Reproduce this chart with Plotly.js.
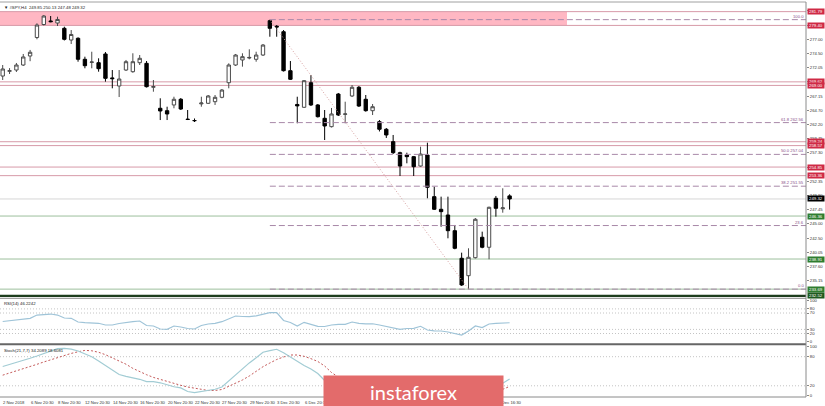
<!DOCTYPE html>
<html><head><meta charset="utf-8">
<script src="https://cdn.plot.ly/plotly-3.0.1.min.js"></script>
<style>html,body{margin:0;padding:0;background:#fff;}#chart{width:825px;height:406px;}</style>
</head><body><div id="chart"></div>
<script>
// ---------------- DATA ----------------
const chartTitle = '\u25BC #SPY,H4  249.85 250.13 247.48 249.32';
const rsiTitle = 'RSI(14) 46.2242';
const stochTitle = 'Stoch(21,7,7) 34.2089 18.6081';

const opens = [270.63,271.45,271.67,272.54,274.10,277.31,279.56,280.17,279.82,278.90,
276.87,277.17,273.53,273.00,272.94,274.45,270.30,268.90,271.67,271.38,
272.94,272.83,268.68,265.04,264.62,265.61,266.60,263.15,262.92,265.80,
265.90,266.18,266.94,269.47,272.54,273.41,273.75,273.53,274.27,280.22,
279.25,278.31,271.55,265.70,265.21,269.47,265.61,263.30,261.85,267.51,
264.00,267.17,268.68,266.60,264.62,262.71,261.40,259.25,257.34,256.94,
256.65,255.03,256.94,249.72,247.53,246.54,243.82,239.04,236.02,239.14,
242.68,240.95,249.44,247.62,249.85];
const highs = [272.54,272.00,272.89,274.45,275.15,279.77,281.20,281.03,280.91,279.18,
278.60,277.34,273.98,274.84,273.70,274.79,271.67,271.67,273.41,274.57,
274.27,273.23,269.94,266.77,265.31,267.04,266.82,264.74,263.27,267.04,
267.34,267.34,268.38,272.83,274.45,274.57,275.26,274.84,276.18,280.40,
279.47,278.60,273.23,267.04,269.94,270.81,265.78,264.74,265.09,267.69,
266.18,269.07,268.90,267.34,265.78,263.00,261.62,260.41,257.51,257.34,
256.77,258.38,259.07,251.45,249.72,249.72,244.81,240.01,240.77,246.02,
243.65,247.98,249.84,251.17,250.13];
const lows = [269.94,270.98,271.33,272.37,273.20,277.00,279.39,279.94,279.30,276.79,
276.18,273.11,271.97,271.97,271.38,269.65,268.50,266.99,271.50,271.20,
272.54,268.64,267.91,263.00,263.00,265.04,264.74,263.00,262.66,265.31,
265.78,265.61,266.77,268.50,272.37,272.25,273.53,273.11,274.10,277.44,
277.44,271.41,269.94,262.44,265.09,265.43,263.44,259.54,261.71,263.70,
262.44,266.99,265.26,264.45,263.87,261.02,259.89,257.11,253.30,255.50,
253.30,254.91,249.44,247.41,244.51,242.50,240.60,234.24,233.69,239.00,
240.77,238.87,246.25,246.94,247.48];
const closes = [271.85,271.55,272.54,273.93,274.75,279.47,281.03,280.05,280.43,276.99,
277.83,273.53,272.42,273.06,271.90,270.23,270.17,270.11,273.11,273.11,
273.70,268.78,268.80,264.57,264.05,266.60,264.91,263.10,262.89,265.95,
267.17,266.94,268.20,272.54,274.27,273.98,273.85,274.27,276.00,278.90,
279.13,271.55,270.06,265.45,269.82,265.61,263.58,261.97,264.05,263.87,
264.05,268.68,265.43,264.62,265.31,261.40,260.41,257.34,255.03,256.65,
254.91,257.11,251.34,247.53,247.12,243.82,240.77,234.41,239.21,245.80,
240.95,247.88,247.70,247.78,249.32];

const rsi = [49.3,51,53,54.6,57,65,66.3,67.5,65,57.8,
57,48,46.3,46.3,44.9,40.7,40.7,44.4,47.3,48.8,
50.5,39.5,38.3,31,30.2,38.3,35.9,32.2,31,39.5,
43.2,44.9,48.8,56.6,62.7,61.5,61,63.2,66.3,70.7,
70.7,51.7,46.8,38.3,47.3,43.2,37.6,37.1,40.7,42.4,
42.4,48,44.9,43.7,43.7,40.7,36.6,33.4,30.2,32.2,
32.7,37.6,28.5,26.6,26.1,23.7,20,16.3,26.1,38.3,
34.6,43.2,44.9,44.9,46.22];
const stochMain = [59.8,63.7,67.6,72,76.7,81.4,86.4,91.8,96.7,97.1,
95.7,91.8,86.2,79.8,71.3,62.3,53,43.3,39.4,36.5,
33.4,28.7,28.5,26.2,21.6,18.1,15.7,8.2,6,8.2,
10.1,12.8,17.5,30.1,43.3,56.5,67.2,77.7,89.1,92.6,
95.3,88,78.8,69.3,61.9,54.6,45.4,30.9,21.6,24,
25,27,27,25,24,20,16,12,8,6,
5,5,4,3,2.5,2,2,1.5,3,9,
12,17,20,25.2,34.21];
const stochSignal = [41.9,46.2,50.3,54.8,59.6,64.3,69.1,73.6,78.4,82.7,
86.8,90.1,93,92.2,89.1,84.1,78.1,72,64.5,55.9,
48.9,42.9,37.3,33,28.9,24.7,21,17.5,14.4,12.8,
10.3,10.3,12.4,18.6,24.7,32,40.2,50.5,59.4,67,
74.2,79.4,83.5,83.5,80.8,75.9,70.1,60.8,47.4,38,
32,28,26,25,25,24,22,19,16,13,
10,8,6.5,5,4.5,4,3.5,3,3,4,
6,8,10,12.8,18.61];

// visible time-axis labels (bar number -> text); the others sit under the watermark
const timeLabelBars = [0,4,8,12,16,20,24,28,32,36,40,44,72];
const timeLabelTexts = ['2 Nov 2018','6 Nov 20:30','8 Nov 20:30','12 Nov 20:30','14 Nov 20:30',
 '16 Nov 20:30','20 Nov 20:30','22 Nov 20:30','27 Nov 20:30','29 Nov 20:30','3 Dec 20:30',
 '6 Dec 20:30','28 Dec 16:30'];

// price scale ticks
const priceTicks = [235.15,237.60,240.05,242.50,245.00,247.45,249.90,252.35,254.85,257.30,
 259.75,262.20,264.70,267.15,269.60,272.05,274.50,277.00,279.45,281.95];

// horizontal levels
const resistanceLevels = [281.79,279.40,269.62,269.00,259.24,258.57,254.85,253.36];
const supportLevels = [246.36,238.91,233.69];
const baseLevel = 232.52;
const currentPrice = 249.32;
const zoneTop = 281.79, zoneBottom = 279.40;

// fibonacci
const fibStartBar = 39, fibEndBar = 68;
const fibHigh = 280.40, fibLow = 233.69;
const fibRatios = [0, 23.6, 38.2, 50.0, 61.8, 100.0];
const fibLabels = ['0.0','23.6','38.2 251.55','50.0 257.04','61.8 262.56','100.0'];

const rsiLevels = [20,30,70,80];
const rsiTicks = [0,20,30,70,80,100];
const stochLevels = [20,80];
const stochTicks = [0,20,80,100];

const watermarkText = 'instaforex';

// ---------------- GEOMETRY / STYLE ----------------
const W = 825, H = 406, ML = 0, MR = 19, MT = 2, MB = 9;
const PW = W - ML - MR, PH = H - MT - MB;
const pxPerBar = 6.85, firstBarPx = 2.7;
const xr0 = -firstBarPx / pxPerBar, xr1 = xr0 + PW / pxPerBar;
const yPaper = py => (H - MB - py) / PH;   // page pixel -> paper y
const xPaper = px => (px - ML) / PW;
const FONT = 'Liberation Sans, Arial, sans-serif';
const bars = closes.map((_, i) => i);

const traces = [
  {type:'candlestick', x:bars, open:opens, high:highs, low:lows, close:closes,
   xaxis:'x', yaxis:'y', whiskerwidth:0, line:{width:1},
   increasing:{fillcolor:'#ffffff', line:{color:'#4a4a4a', width:1}},
   decreasing:{fillcolor:'#000000', line:{color:'#000000', width:1}},
   hoverinfo:'skip', showlegend:false},
  {type:'scatter', mode:'lines', x:bars, y:rsi, xaxis:'x', yaxis:'y2',
   line:{color:'#9fc4d8', width:1.2}, hoverinfo:'skip', showlegend:false},
  {type:'scatter', mode:'lines', x:bars, y:stochSignal, xaxis:'x', yaxis:'y3',
   line:{color:'#c45a5a', width:1, dash:'2px,2px'}, hoverinfo:'skip', showlegend:false},
  {type:'scatter', mode:'lines', x:bars, y:stochMain, xaxis:'x', yaxis:'y3',
   line:{color:'#a2ccd4', width:1.2}, hoverinfo:'skip', showlegend:false}
];

const shapes = [];
const annotations = [];

// resistance zone fill
shapes.push({type:'rect', xref:'paper', yref:'y', x0:0, x1:xPaper(567), y0:zoneBottom, y1:zoneTop,
  fillcolor:'#ffb7c3', line:{width:0}, layer:'below'});
// level lines
resistanceLevels.forEach(v => shapes.push({type:'line', xref:'paper', yref:'y', x0:0, x1:1, y0:v, y1:v,
  line:{color:'#d79aa8', width:1}, layer:'below'}));
supportLevels.forEach(v => shapes.push({type:'line', xref:'paper', yref:'y', x0:0, x1:1, y0:v, y1:v,
  line:{color:'#9cbf9c', width:1}, layer:'below'}));
shapes.push({type:'line', xref:'paper', yref:'y', x0:0, x1:1, y0:currentPrice, y1:currentPrice,
  line:{color:'#d6d6d6', width:1}, layer:'below'});
shapes.push({type:'line', xref:'paper', yref:'y', x0:0, x1:1, y0:baseLevel, y1:baseLevel,
  line:{color:'#1e3d1e', width:2.4}, layer:'above'});
// fibonacci levels
const fibPrices = fibRatios.map(r => fibLow + (fibHigh - fibLow) * r / 100);
fibPrices.forEach((p, i) => {
  shapes.push({type:'line', xref:'x', yref:'y', x0:fibStartBar, x1:xr1, y0:p, y1:p,
    line:{color:'#a888a8', width:1, dash:'6px,3px'}, layer:'above'});
  annotations.push({xref:'paper', x:1, xanchor:'right', xshift:-1, yref:'y', y:p, yanchor:'bottom',
    text:fibLabels[i], showarrow:false, font:{family:FONT, size:4.2, color:'#8a4f8a'}, borderpad:0});
});
shapes.push({type:'line', xref:'x', yref:'y', x0:fibStartBar, y0:fibHigh, x1:fibEndBar, y1:fibLow,
  line:{color:'#d6a0a0', width:1, dash:'1px,2px'}, layer:'above'});

// oscillator level lines
rsiLevels.forEach(v => shapes.push({type:'line', xref:'paper', yref:'y2', x0:0, x1:1, y0:v, y1:v,
  line:{color:'#c4c4c4', width:1, dash:'1px,2px'}, layer:'below'}));
stochLevels.forEach(v => shapes.push({type:'line', xref:'paper', yref:'y3', x0:0, x1:1, y0:v, y1:v,
  line:{color:'#c4c4c4', width:1, dash:'1px,2px'}, layer:'below'}));

// frame lines
shapes.push({type:'line', xref:'paper', yref:'paper', x0:0, x1:1, y0:1, y1:1, line:{color:'#a0a0a0', width:1}});
shapes.push({type:'line', xref:'paper', yref:'paper', x0:0, x1:1, y0:yPaper(298.3), y1:yPaper(298.3), line:{color:'#8a8a8a', width:1}});
shapes.push({type:'line', xref:'paper', yref:'paper', x0:0, x1:1, y0:yPaper(344.2), y1:yPaper(344.2), line:{color:'#666666', width:2}});
shapes.push({type:'line', xref:'paper', yref:'paper', x0:0, x1:1, y0:0, y1:0, line:{color:'#8a8a8a', width:1}});
shapes.push({type:'line', xref:'paper', yref:'paper', x0:1, x1:1, y0:0, y1:1, line:{color:'#8a8a8a', width:1}});

// price labels on the axis
const lab = (v, bg) => ({xref:'paper', x:1, xanchor:'left', xshift:1, yref:'y', y:v, yanchor:'middle',
  text:v.toFixed(2), showarrow:false, font:{family:FONT, size:4.3, color:'#ffffff'},
  bgcolor:bg, borderpad:0.4, width:15, height:4.6});
resistanceLevels.forEach(v => annotations.push(lab(v, '#cf2a45')));
supportLevels.forEach(v => annotations.push(lab(v, '#2f7d2f')));
annotations.push(lab(baseLevel, '#1f5a1f'));
annotations.push(lab(currentPrice, '#000000'));

// panel titles
annotations.push({xref:'paper', x:0, xanchor:'left', xshift:2, yref:'paper', y:1, yanchor:'top', yshift:-1,
  text:chartTitle, showarrow:false, font:{family:FONT, size:4.3, color:'#222'}});
annotations.push({xref:'paper', x:0, xanchor:'left', xshift:2, yref:'y2 domain', y:1, yanchor:'top', yshift:-0.5,
  text:rsiTitle, showarrow:false, font:{family:FONT, size:4.3, color:'#222'}});
annotations.push({xref:'paper', x:0, xanchor:'left', xshift:2, yref:'y3 domain', y:1, yanchor:'top', yshift:-0.5,
  text:stochTitle, showarrow:false, font:{family:FONT, size:4.3, color:'#222'}});

// time labels
timeLabelBars.forEach((b, i) => annotations.push({xref:'x', x:b, xanchor:'left', xshift:-1.5,
  yref:'paper', y:0, yanchor:'top', yshift:-1, text:timeLabelTexts[i], showarrow:false,
  font:{family:FONT, size:4.2, color:'#333'}}));

// watermark (last so it sits on top)
annotations.push({xref:'paper', x:xPaper(323), xanchor:'left', yref:'paper', y:yPaper(375), yanchor:'top',
  width:179, height:31, borderpad:0, bgcolor:'#e36b6b', text:watermarkText, showarrow:false,
  font:{family:'Lato, Open Sans, sans-serif', size:20, color:'#ffffff'}, align:'center', valign:'middle'});

const axBase = {side:'right', showgrid:false, zeroline:false, ticks:'outside', ticklen:2,
  tickcolor:'#888', tickfont:{family:FONT, size:4.2, color:'#333'}, showline:false, fixedrange:true};

const layout = {
  width:W, height:H, margin:{l:ML, r:MR, t:MT, b:MB, pad:0},
  paper_bgcolor:'#ffffff', plot_bgcolor:'#ffffff', showlegend:false,
  xaxis:{range:[xr0, xr1], showticklabels:false, ticks:'', showgrid:false, zeroline:false,
    showline:false, rangeslider:{visible:false}, anchor:'y3', fixedrange:true},
  yaxis:Object.assign({}, axBase, {domain:[yPaper(297.5), 1], range:[232.24, 283.46],
    tickvals:priceTicks, ticktext:priceTicks.map(v => v.toFixed(2))}),
  yaxis2:Object.assign({}, axBase, {domain:[yPaper(343.5), yPaper(298.5)], range:[-4.39, 105.37],
    tickvals:rsiTicks, ticktext:rsiTicks.map(String)}),
  yaxis3:Object.assign({}, axBase, {domain:[0, yPaper(345)], range:[-3.1, 104.1],
    tickvals:stochTicks, ticktext:stochTicks.map(String)}),
  shapes:shapes, annotations:annotations
};

Plotly.newPlot('chart', traces, layout, {displayModeBar:false, staticPlot:true});
</script></body></html>
